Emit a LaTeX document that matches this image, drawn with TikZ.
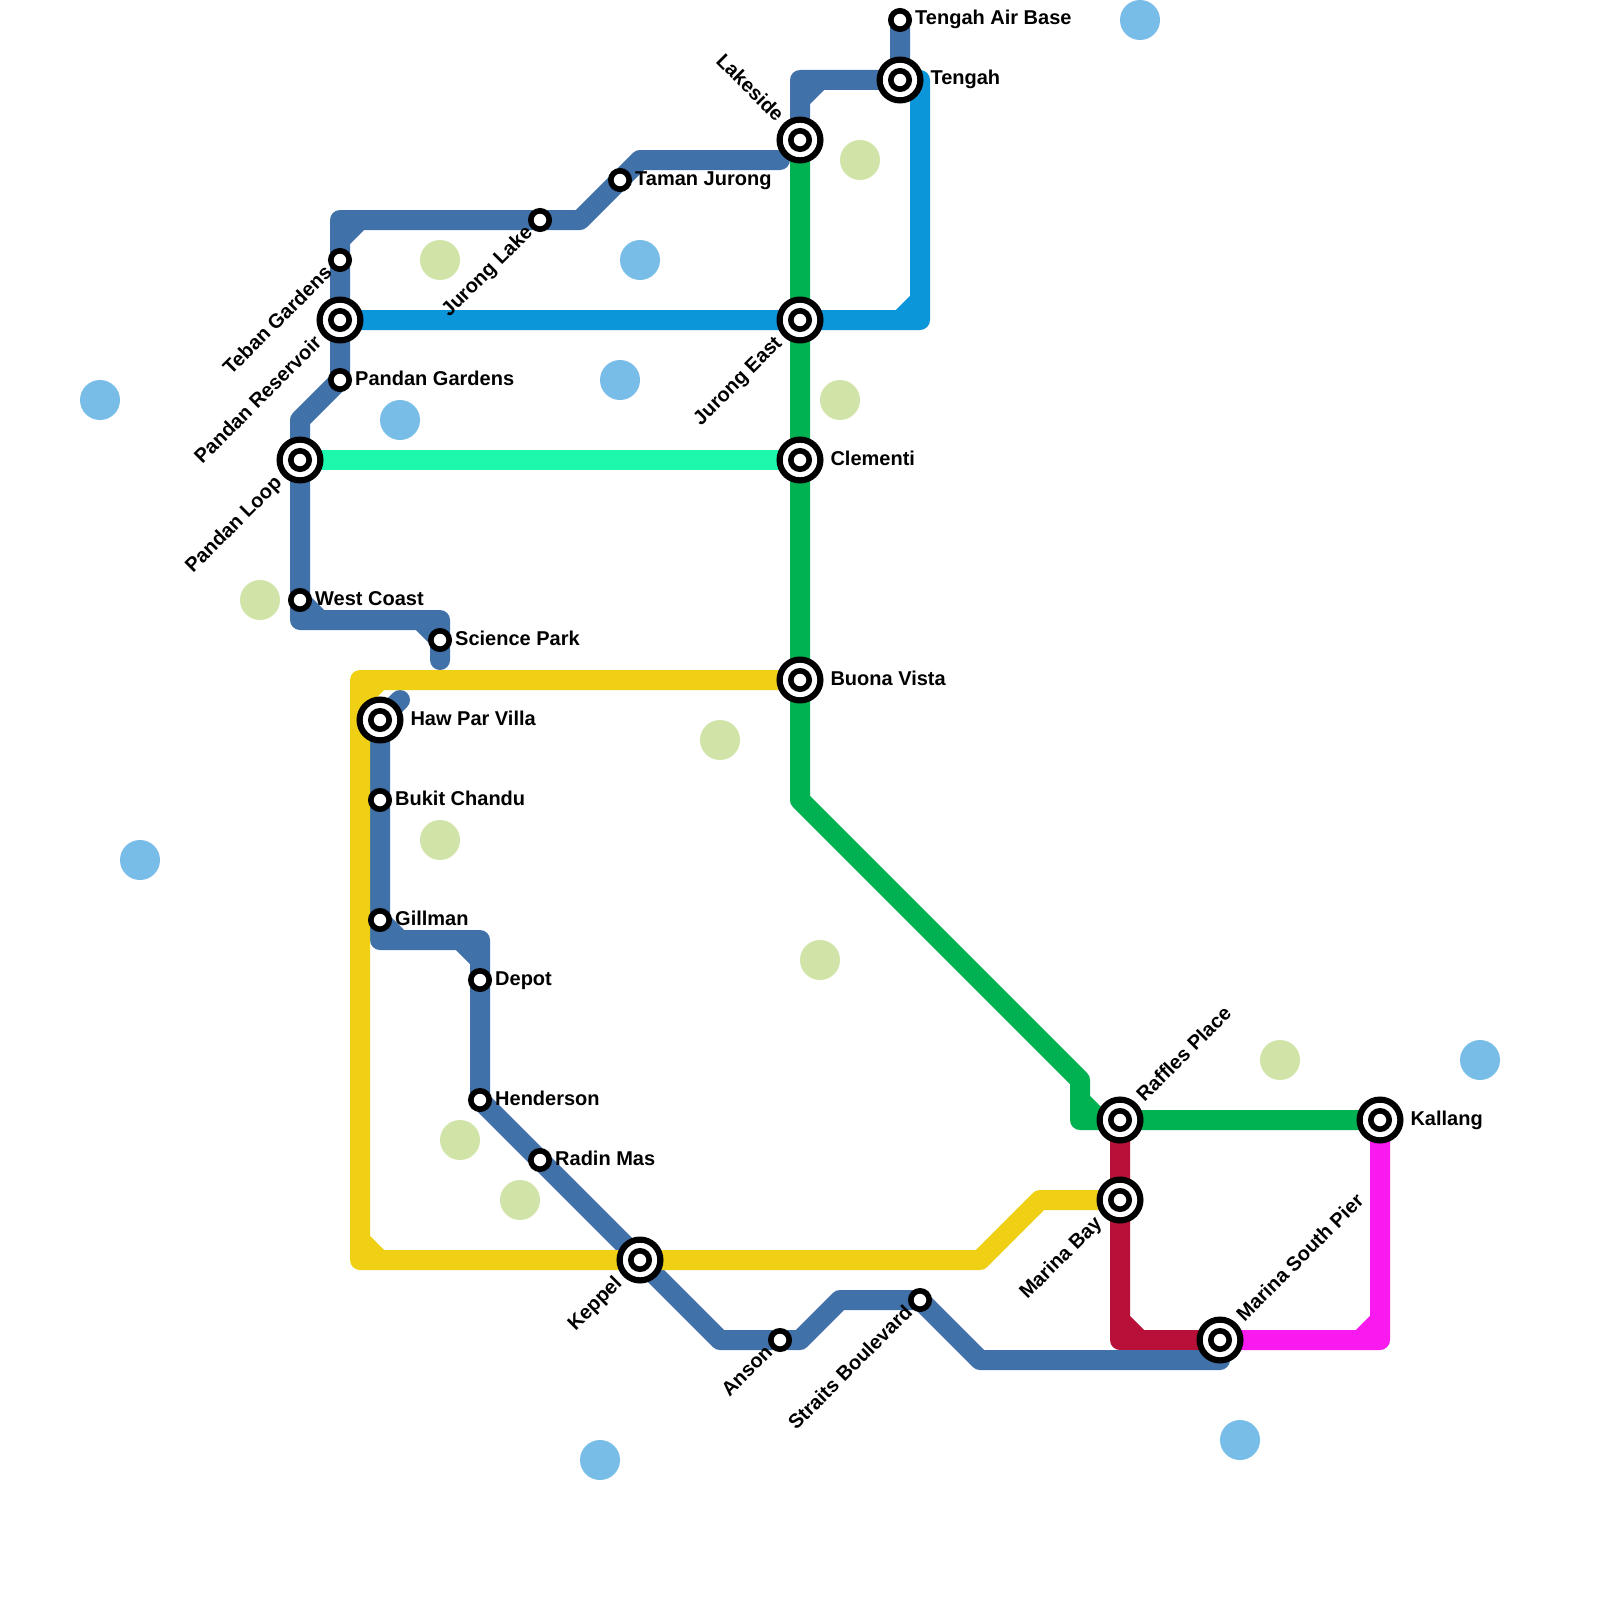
\documentclass[tikz,border=0pt]{standalone}
\usepackage{fontspec}
\setmainfont{Liberation Sans}
\usetikzlibrary{positioning,backgrounds}
\definecolor{steelline}{HTML}{4071A8}
\definecolor{skyline}{HTML}{0A96D8}
\definecolor{mintline}{HTML}{1CF9AD}
\definecolor{greenline}{HTML}{00B251}
\definecolor{yellowline}{HTML}{F0D014}
\definecolor{redline}{HTML}{B81038}
\definecolor{pinkline}{HTML}{F81AEE}
\definecolor{parkspot}{HTML}{D0E4A8}
\definecolor{waterspot}{HTML}{78BCE8}
\begin{document}
\begin{tikzpicture}
	[x=.5pt,y=-.5pt,
	stop/.style={circle, draw=black, fill=white, line width=2.8pt, minimum size=9.2pt, inner sep=0pt},
	hub/.style={circle, draw=black, fill=white, line width=3.1pt, minimum size=20.4pt, inner sep=0pt, path picture={\draw[line width=2.8pt] (path picture bounding box.center) circle (4.6pt);}},
	lbl/.style={font=\fontsize{10pt}{12pt}\bfseries, inner sep=0pt, text height=7.5pt, text depth=2.5pt},
	metro/.style={line width=10pt, line cap=round, line join=round},
	park/.style={circle, fill=parkspot, minimum size=20pt, inner sep=0pt},
	water/.style={circle, fill=waterspot, minimum size=20pt, inner sep=0pt}]
	\useasboundingbox (0,0) rectangle (1600,1600);
	\node (tengahair) [stop] at (900,20) {};\node (tengah) [hub] at (900,80) {};\node (lakeside) [hub] at (800,140) {};\node (tamanj) [stop] at (620,180) {};\node (jurlake) [stop] at (540,220) {};\node (teban) [stop] at (340,260) {};\node (panres) [hub] at (340,320) {};\node (jureast) [hub] at (800,320) {};\node (pangar) [stop] at (340,380) {};\node (panloop) [hub] at (300,460) {};\node (clementi) [hub] at (800,460) {};\node (westcoast) [stop] at (300,600) {};\node (scipark) [stop] at (440,640) {};\node (buona) [hub] at (800,680) {};\node (hawpar) [hub] at (380,720) {};\node (bukit) [stop] at (380,800) {};\node (gillman) [stop] at (380,920) {};\node (depot) [stop] at (480,980) {};\node (henderson) [stop] at (480,1100) {};\node (raffles) [hub] at (1120,1120) {};\node (kallang) [hub] at (1380,1120) {};\node (radin) [stop] at (540,1160) {};\node (marinab) [hub] at (1120,1200) {};\node (keppel) [hub] at (640,1260) {};\node (straits) [stop] at (920,1300) {};\node (anson) [stop] at (780,1340) {};\node (marinas) [hub] at (1220,1340) {};

	\node (tengahairlbl) [lbl, right=1.4pt of tengahair] {Tengah Air Base};
	\node (tengahlbl) [lbl, right=3.3pt of tengah] {Tengah};
	\node (lakesidelbl) [lbl, above left=2.75pt of lakeside, anchor=east, rotate=-45] {Lakeside};
	\node (tamanjlbl) [lbl, right=1.4pt of tamanj] {Taman Jurong};
	\node (jurlakelbl) [lbl, below left=.9pt of jurlake, anchor=east, rotate=45] {Jurong Lake};
	\node (tebanlbl) [lbl, below left=1.2pt of teban, anchor=east, rotate=45] {Teban Gardens};
	\node (panreslbl) [lbl, below left=2.75pt of panres, anchor=east, rotate=45] {Pandan Reservoir};
	\node (jureastlbl) [lbl, below left=2.75pt of jureast, anchor=east, rotate=45] {Jurong East};
	\node (pangarlbl) [lbl, right=1.4pt of pangar] {Pandan Gardens};
	\node (panlooplbl) [lbl, below left=2.75pt of panloop, anchor=east, rotate=45] {Pandan Loop};
	\node (clementilbl) [lbl, right=3.3pt of clementi] {Clementi};
	\node (westcoastlbl) [lbl, right=1.4pt of westcoast] {West Coast};
	\node (sciparklbl) [lbl, right=1.4pt of scipark] {Science Park};
	\node (buonalbl) [lbl, right=3.3pt of buona] {Buona Vista};
	\node (hawparlbl) [lbl, right=3.3pt of hawpar] {Haw Par Villa};
	\node (bukitlbl) [lbl, right=1.4pt of bukit] {Bukit Chandu};
	\node (gillmanlbl) [lbl, right=1.4pt of gillman] {Gillman};
	\node (depotlbl) [lbl, right=1.4pt of depot] {Depot};
	\node (hendersonlbl) [lbl, right=1.4pt of henderson] {Henderson};
	\node (raffleslbl) [lbl, above right=2.9pt of raffles, anchor=west, rotate=45] {Raffles Place};
	\node (kallanglbl) [lbl, right=3.3pt of kallang] {Kallang};
	\node (radinlbl) [lbl, right=1.4pt of radin] {Radin Mas};
	\node (marinablbl) [lbl, below left=2.75pt of marinab, anchor=east, rotate=45] {Marina Bay};
	\node (keppellbl) [lbl, below left=2.75pt of keppel, anchor=east, rotate=45] {Keppel};
	\node (straitslbl) [lbl, below left=.9pt of straits, anchor=east, rotate=45] {Straits Boulevard};
	\node (ansonlbl) [lbl, below left=.9pt of anson, anchor=east, rotate=45] {Anson};
	\node (marinaslbl) [lbl, above right=2.9pt of marinas, anchor=west, rotate=45] {Marina South Pier};

	\begin{scope}[on background layer]
	\fill[white] (0,0) rectangle (1600,1600);
	\node (w1) [water] at (1140,20) {};\node (w2) [water] at (640,260) {};\node (w3) [water] at (620,380) {};\node (w4) [water] at (400,420) {};\node (w5) [water] at (100,400) {};\node (w6) [water] at (140,860) {};\node (w7) [water] at (600,1460) {};\node (w8) [water] at (1240,1440) {};\node (w9) [water] at (1480,1060) {};
	\node (p1) [park] at (860,160) {};\node (p2) [park] at (440,260) {};\node (p3) [park] at (840,400) {};\node (p4) [park] at (260,600) {};\node (p5) [park] at (720,740) {};\node (p6) [park] at (440,840) {};\node (p7) [park] at (820,960) {};\node (p8) [park] at (460,1140) {};\node (p9) [park] at (520,1200) {};\node (p10) [park] at (1280,1060) {};

	\coordinate (s1) at (800,80);\coordinate (s2) at (780,160);\coordinate (s3) at (640,160);\coordinate (s4) at (580,220);\coordinate (s5) at (340,220);\coordinate (s6) at (300,420);\coordinate (s7) at (300,620);\coordinate (s8) at (440,620);\coordinate (s9) at (440,660);\coordinate (s10) at (400,700);\coordinate (s11) at (380,940);\coordinate (s12) at (480,940);\coordinate (s13) at (720,1340);\coordinate (s14) at (800,1340);\coordinate (s15) at (840,1300);\coordinate (s16) at (980,1360);\coordinate (s17) at (1220,1360);
	\coordinate (c1) at (920,80);\coordinate (c2) at (920,320);
	\coordinate (g1) at (800,800);\coordinate (g2) at (1080,1080);\coordinate (g3) at (1080,1120);
	\coordinate (y1) at (360,680);\coordinate (y2) at (360,1260);\coordinate (y3) at (980,1260);\coordinate (y4) at (1040,1200);
	\coordinate (r1) at (1120,1340);\coordinate (m1) at (1380,1340);

	\draw[metro, greenline] (lakeside.center) -- (jureast.center) -- (clementi.center) -- (buona.center) -- (g1) -- (g2) -- (g3) -- (raffles.center) -- (kallang.center) (g3) ++(0,-20) -- ++(20,20);
	\draw[metro, mintline] (panloop.center) -- (clementi.center);
	\draw[metro, skyline] (panres.center) -- (jureast.center) -- (c2) -- (c1) -- (tengah.center) (c2) ++(-20,0) -- ++(20,-20);
	\draw[metro, redline] (raffles.center) -- (marinab.center) -- (r1) -- (marinas.center) (r1) ++(0,-20) -- ++(20,20);
	\draw[metro, pinkline] (marinas.center) -- (m1) -- (kallang.center) (m1) ++(-20,0) -- ++(20,-20);
	\draw[metro, steelline] (tengahair.center) -- (tengah.center) -- (s1) -- (lakeside.center) (s1) ++(0,20) -- ++(20,-20);
	\draw[metro, steelline] (s2) -- (s3) -- (tamanj.center) -- (s4) -- (jurlake.center) -- (s5) -- (teban.center) -- (panres.center) -- (pangar.center) -- (s6) -- (panloop.center) -- (westcoast.center) -- (s7) -- (s8) -- (scipark.center) -- (s9) (s5) ++(0,20) -- ++(20,-20) (s7) ++(0,-20) -- ++(20,20) (s8) ++(-20,0) -- ++(20,20);
	\draw[metro, steelline] (s10) -- (hawpar.center) -- (bukit.center) -- (gillman.center) -- (s11) -- (s12) -- (depot.center) -- (henderson.center) -- (radin.center) -- (keppel.center) -- (s13) -- (anson.center) -- (s14) -- (s15) -- (straits.center) -- (s16) -- (s17) -- (marinas.center) (s11) ++(0,-20) -- ++(20,20) (s12) ++(-20,0) -- ++(20,20);
	\draw[metro, yellowline] (buona.center) -- (y1) -- (y2) -- (keppel.center) -- (y3) -- (y4) -- (marinab.center) (y1) ++(0,20) -- ++(20,-20) (y2) ++(0,-20) -- ++(20,20);
	\end{scope}
\end{tikzpicture}
\end{document}
